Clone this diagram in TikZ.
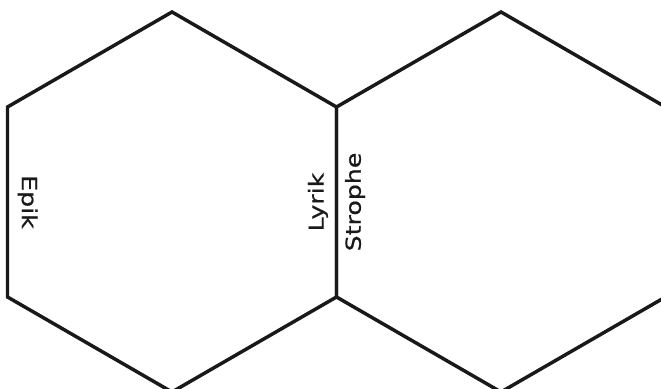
\documentclass[tikz,border=0pt]{standalone}
\usepackage{fontspec}
\newfontfamily\hexfont[FakeStretch=1.22,FakeBold=0.6]{DejaVu Sans}
\usepackage{tikz}

\tikzset{
  hexline/.style={black!90,line width=2.6pt,line join=miter},
  sidelabel/.style={font=\hexfont\fontsize{15.5}{18}\selectfont,text=black!90,inner sep=6.4pt,outer sep=0pt}
}

\begin{document}
\begin{tikzpicture}[x=0.75pt,y=0.75pt]
\useasboundingbox (0,0) rectangle (661,389);
% corners of the two hexagons
\coordinate (ltop) at (172,377);
\coordinate (lul) at (7.5,282);
\coordinate (lll) at (7.5,92);
\coordinate (lbot) at (172,-3);
\coordinate (mlr) at (336.5,92);
\coordinate (mur) at (336.5,282);
\coordinate (rtop) at (501,377);
\coordinate (rbot) at (501,-3);
\coordinate (rlr) at (665.5,92);
\coordinate (rur) at (665.5,282);
\coordinate (lmid) at (7.5,187);
\coordinate (mmid) at (336.5,187);
\begin{scope}
\clip (0,0) rectangle (661,389);
\draw[hexline] (ltop) -- (lul) -- (lll) -- (lbot) -- (mlr) -- (mur) -- cycle;
\draw[hexline] (rtop) -- (mur) -- (mlr) -- (rbot) -- (rlr) -- (rur) -- cycle;
\end{scope}
\node[sidelabel,rotate=-90,anchor=south,inner sep=7.6pt] (epik) at (lmid) {Epik};
\node[sidelabel,rotate=90,anchor=south] (lyrik) at (mmid) {Lyrik};
\node[sidelabel,rotate=90,anchor=north] (strophe) at (mmid) {Strophe};
\end{tikzpicture}
\end{document}
